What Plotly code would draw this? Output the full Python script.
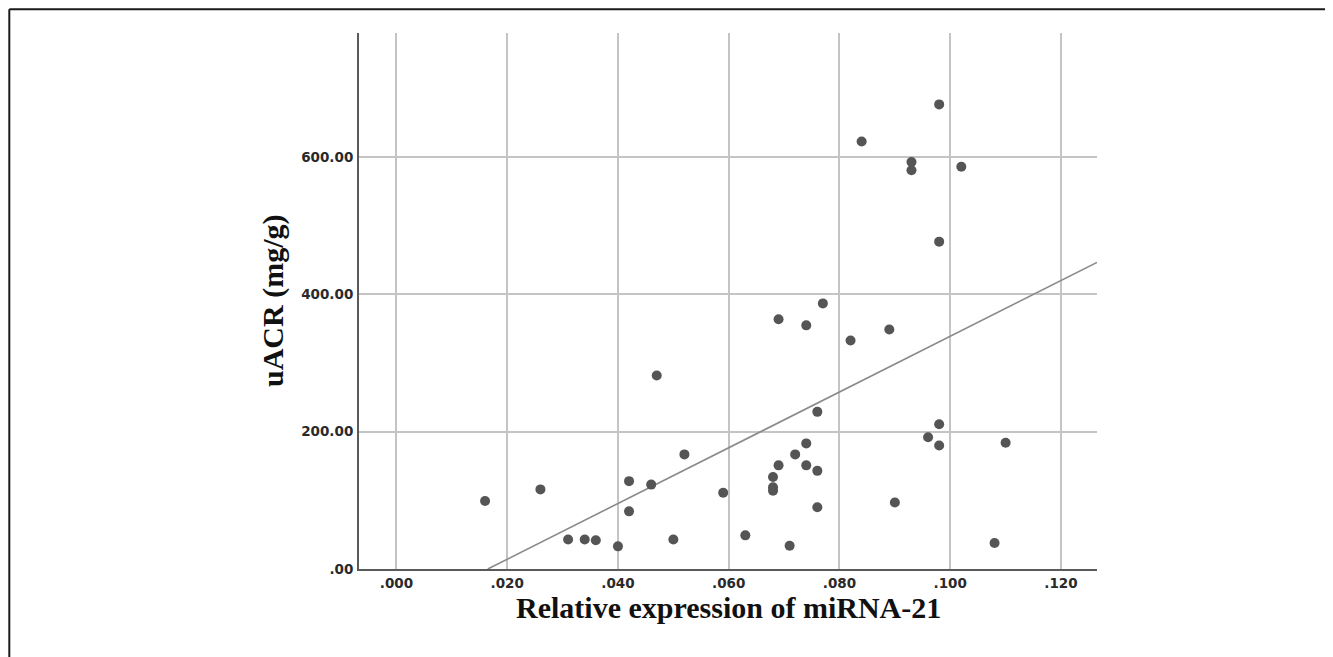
import numpy as np
import plotly.graph_objects as go

# Relative expression of miRNA-21 (x) and uACR in mg/g (y)
mirna21 = [0.016, 0.026, 0.031, 0.034, 0.036, 0.040, 0.042, 0.042, 0.046, 0.047,
           0.050, 0.052, 0.059, 0.063, 0.068, 0.068, 0.068, 0.069, 0.071, 0.072,
           0.074, 0.074, 0.076, 0.076, 0.076, 0.090, 0.096, 0.098, 0.098, 0.108,
           0.110, 0.069, 0.074, 0.077, 0.082, 0.089, 0.098, 0.084, 0.093, 0.093,
           0.098, 0.102]
uacr = [99, 116, 43, 43, 42, 33, 128, 84, 123, 282,
        43, 167, 111, 49, 134, 119, 114, 151, 34, 167,
        183, 151, 229, 143, 90, 97, 192, 211, 180, 38,
        184, 364, 355, 387, 333, 349, 477, 623, 593, 581,
        677, 586]

x_ticks = [0.0, 0.02, 0.04, 0.06, 0.08, 0.10, 0.12]
x_tick_labels = [".000", ".020", ".040", ".060", ".080", ".100", ".120"]
y_ticks = [0, 200, 400, 600]
y_tick_labels = [".00", "200.00", "400.00", "600.00"]

x_range = [-0.00676, 0.1265]
y_range = [0, 781]

slope, intercept = np.polyfit(mirna21, uacr, 1)
fit_x = np.array([max(-intercept / slope, x_range[0]), x_range[1]])
fit_y = intercept + slope * fit_x

fig = go.Figure()
fig.add_trace(go.Scatter(x=fit_x, y=fit_y, mode="lines",
                         line=dict(color="#8a8a8a", width=1.6),
                         hoverinfo="skip", showlegend=False, cliponaxis=True))
fig.add_trace(go.Scatter(x=mirna21, y=uacr, mode="markers",
                         marker=dict(color="#555555", size=10, line=dict(width=0)),
                         showlegend=False))

tick_font = dict(family="DejaVu Sans", size=13.5, color="#2a2a2a", weight="bold")
title_font = dict(family="Liberation Serif", size=30, color="#111111", weight="bold")

fig.update_xaxes(range=x_range, tickvals=x_ticks, ticktext=x_tick_labels,
                 showgrid=True, gridcolor="#c4c4c4", gridwidth=1.5,
                 showline=True, linecolor="#5a5a5a", linewidth=2,
                 zeroline=False, ticks="", tickfont=tick_font, ticklabelstandoff=1)
fig.update_yaxes(range=y_range, tickvals=y_ticks, ticktext=y_tick_labels,
                 showgrid=True, gridcolor="#c4c4c4", gridwidth=1.5,
                 showline=True, linecolor="#5a5a5a", linewidth=2,
                 zeroline=False, ticks="", tickfont=tick_font, ticklabelstandoff=1)

# page body adds an 8px offset, so the figure origin sits at (8, 8) in the screenshot
OFF = 8
W, H = 1333 - OFF, 657 - OFF
L, T = 359 - OFF, 33 - OFF
R = W - (1097 - OFF)
B = H - (569 - OFF)
pw, ph = W - L - R, H - T - B
plot_bottom = T + ph

fig.update_layout(
    width=W, height=H,
    margin=dict(l=L, r=R, t=T, b=B, pad=0),
    plot_bgcolor="white", paper_bgcolor="white",
    annotations=[
        dict(text="Relative expression of miRNA-21", xref="paper", yref="paper",
             x=0.5, y=-((607 - OFF) - plot_bottom) / ph, xanchor="center", yanchor="middle",
             showarrow=False, font=title_font),
        dict(text="uACR (mg/g)", xref="paper", yref="paper",
             x=((273 - OFF) - L) / pw, y=0.5, xanchor="center", yanchor="middle",
             textangle=-90, showarrow=False, font=title_font),
    ],
    shapes=[
        dict(type="line", xref="paper", yref="paper",
             x0=((9.3 - OFF) - L) / pw, x1=((9.3 - OFF) - L) / pw,
             y0=-0.3, y1=1 + (T - (9.3 - OFF)) / ph,
             line=dict(color="#1a1a1a", width=2)),
        dict(type="line", xref="paper", yref="paper",
             x0=((9.3 - OFF) - L) / pw, x1=1.5,
             y0=1 + (T - (9.3 - OFF)) / ph, y1=1 + (T - (9.3 - OFF)) / ph,
             line=dict(color="#1a1a1a", width=2)),
    ],
)

fig.write_html("out.html")
